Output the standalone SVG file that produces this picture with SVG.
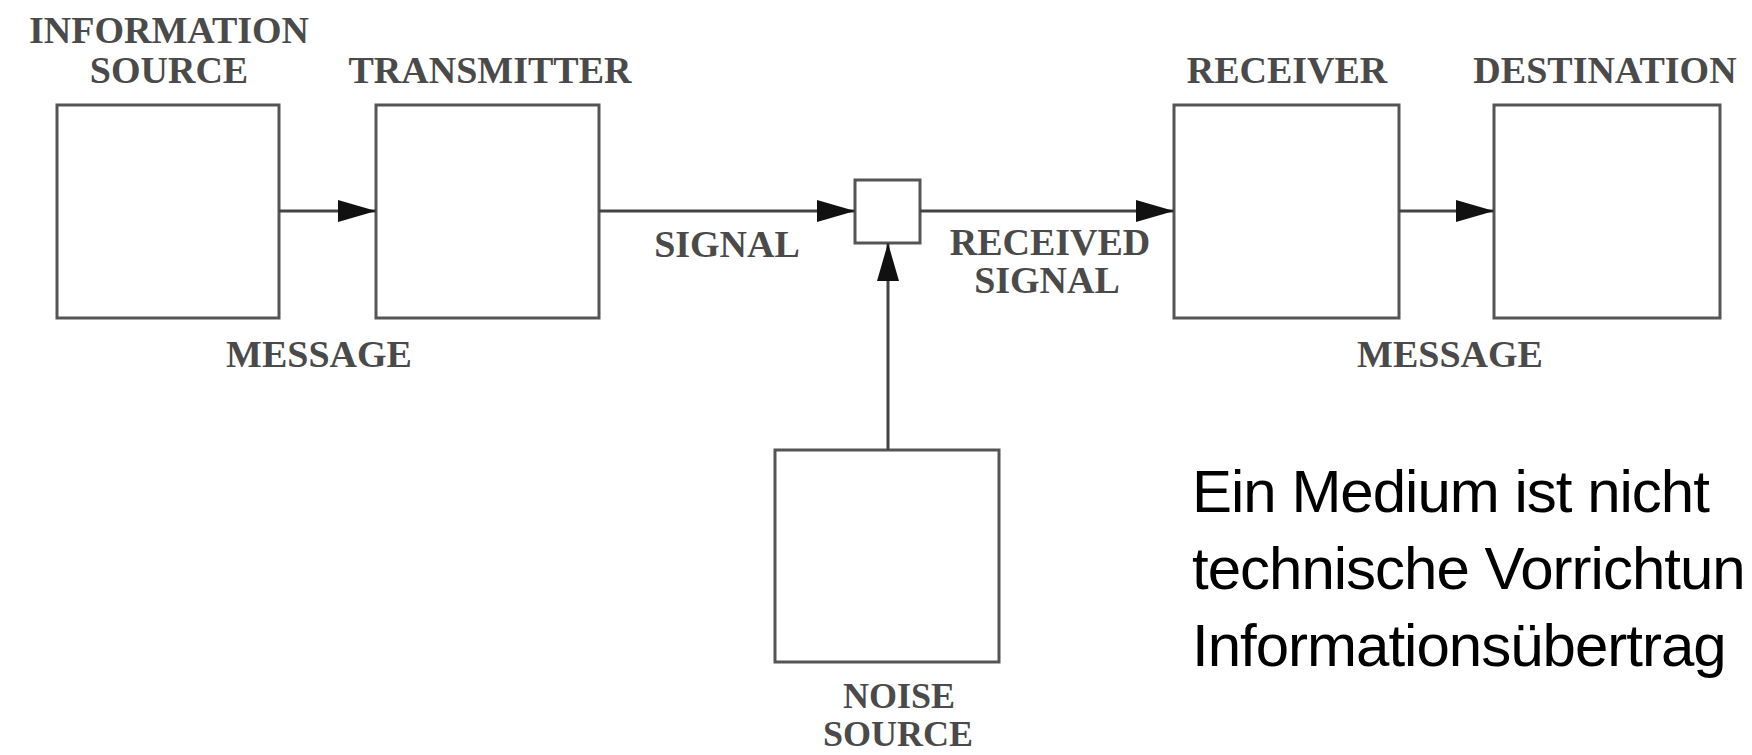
<svg xmlns="http://www.w3.org/2000/svg" width="1752" height="755" viewBox="0 0 1752 755">
<style>
.box{fill:#fff;stroke:#555;stroke-width:3}
.lbl{font-family:"Liberation Serif","Times New Roman",serif;font-weight:bold;font-size:38px;fill:#4a4a4a;text-anchor:middle}
.sm{font-size:36px}
.wire{stroke:#444;stroke-width:3;fill:none}
.note{font-family:"Liberation Sans",Arial,sans-serif;font-size:60px;letter-spacing:-1px;fill:#000}
</style>
<defs>
<marker id="ah" markerUnits="userSpaceOnUse" markerWidth="40" markerHeight="24" refX="38" refY="11" orient="auto">
<path d="M0,0 L38,11 L0,22 Z" fill="#111"/>
</marker>
</defs>
<rect width="1752" height="755" fill="#fff"/>
<g id="info-source">
<rect class="box" x="57" y="105" width="222" height="213"/>
<text class="lbl" x="169" y="43">INFORMATION</text>
<text class="lbl" x="169" y="83">SOURCE</text>
</g>
<g id="transmitter">
<rect class="box" x="376" y="105" width="223" height="213"/>
<text class="lbl" x="490" y="83">TRANSMITTER</text>
</g>
<g id="channel">
<rect class="box" x="855" y="180" width="65" height="63"/>
</g>
<g id="receiver">
<rect class="box" x="1174" y="105" width="225" height="213"/>
<text class="lbl" x="1287" y="83">RECEIVER</text>
</g>
<g id="destination">
<rect class="box" x="1494" y="105" width="226" height="213"/>
<text class="lbl" x="1605" y="83">DESTINATION</text>
</g>
<g id="noise-source">
<rect class="box" x="775" y="450" width="224" height="212"/>
<text class="lbl sm" x="899" y="708">NOISE</text>
<text class="lbl sm" x="898" y="746">SOURCE</text>
</g>
<g id="connectors">
<line class="wire" x1="279" y1="211" x2="376" y2="211" marker-end="url(#ah)"/>
<line class="wire" x1="599" y1="211" x2="855" y2="211" marker-end="url(#ah)"/>
<line class="wire" x1="920" y1="211" x2="1174" y2="211" marker-end="url(#ah)"/>
<line class="wire" x1="1399" y1="211" x2="1494" y2="211" marker-end="url(#ah)"/>
<line class="wire" x1="888" y1="450" x2="888" y2="243" marker-end="url(#ah)"/>
</g>
<g id="connector-labels">
<text class="lbl" x="319" y="367">MESSAGE</text>
<text class="lbl" x="727" y="257">SIGNAL</text>
<text class="lbl" x="1050" y="255">RECEIVED</text>
<text class="lbl" x="1047" y="293">SIGNAL</text>
<text class="lbl" x="1450" y="367">MESSAGE</text>
</g>
<g id="note">
<text class="note" x="1192" y="512">Ein Medium ist nicht</text>
<text class="note" x="1192" y="589">technische Vorrichtun</text>
<text class="note" x="1192" y="666">Informationsübertrag</text>
</g>
</svg>
